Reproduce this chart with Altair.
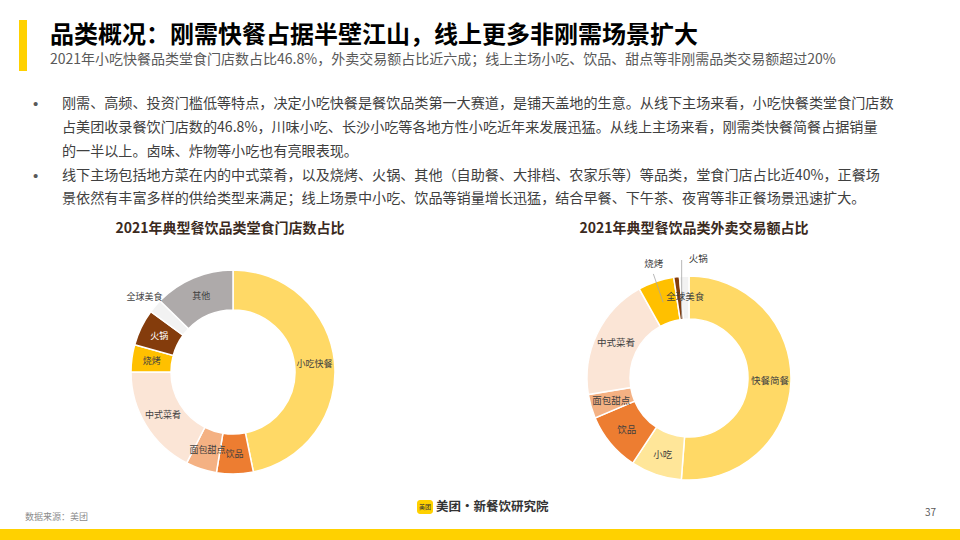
import altair as alt
import pandas as pd

FONT = "Noto Sans CJK SC"

# ---------------- data ----------------
left_cats = ["小吃快餐", "饮品", "面包甜点", "中式菜肴", "烧烤", "火锅", "全球美食", "其他"]
left_vals = [46.8, 5.8, 4.9, 17.5, 4.3, 5.8, 2.2, 12.7]

right_cats = ["快餐简餐", "小吃", "饮品", "面包甜点", "中式菜肴", "烧烤", "火锅", "全球美食"]
right_vals = [51.2, 8.1, 9.3, 3.8, 19.5, 5.7, 0.9, 1.5]

color_domain = ["小吃快餐", "快餐简餐", "小吃", "饮品", "面包甜点", "中式菜肴", "烧烤", "火锅", "全球美食", "其他"]
color_range = ["#FFD966", "#FFD966", "#FFE699", "#ED7D31", "#F4B183", "#FBE5D6", "#FFC000", "#843C0C", "#F2F2F2", "#AEAAAA"]

title_text = "品类概况：刚需快餐占据半壁江山，线上更多非刚需场景扩大"
subtitle_text = "2021年小吃快餐品类堂食门店数占比46.8%，外卖交易额占比近六成；线上主场小吃、饮品、甜点等非刚需品类交易额超过20%"
bullet_lines = [
    "刚需、高频、投资门槛低等特点，决定小吃快餐是餐饮品类第一大赛道，是铺天盖地的生意。从线下主场来看，小吃快餐类堂食门店数",
    "占美团收录餐饮门店数的46.8%，川味小吃、长沙小吃等各地方性小吃近年来发展迅猛。从线上主场来看，刚需类快餐简餐占据销量",
    "的一半以上。卤味、炸物等小吃也有亮眼表现。",
    "线下主场包括地方菜在内的中式菜肴，以及烧烤、火锅、其他（自助餐、大排档、农家乐等）等品类，堂食门店占比近40%，正餐场",
    "景依然有丰富多样的供给类型来满足；线上场景中小吃、饮品等销量增长迅猛，结合早餐、下午茶、夜宵等非正餐场景迅速扩大。",
]
bullet_starts = [True, False, False, True, False]
left_title = "2021年典型餐饮品类堂食门店数占比"
right_title = "2021年典型餐饮品类外卖交易额占比"
source_text = "数据来源：美团"
brand_text = "美团·新餐饮研究院"
page_text = "37"

left_df = pd.DataFrame({"cat": left_cats, "val": left_vals, "idx": range(len(left_cats))})
right_df = pd.DataFrame({"cat": right_cats, "val": right_vals, "idx": range(len(right_cats))})

one = pd.DataFrame({"d": [0]})


def txt(s, x, y, size, color="#404040", weight="normal", align="left", baseline="middle", font=FONT):
    return alt.Chart(pd.DataFrame({"t": [s]})).mark_text(
        font=font, fontSize=size, color=color, fontWeight=weight, align=align, baseline=baseline
    ).encode(x=alt.value(x), y=alt.value(y), text="t:N")


def rect(x, x2, y, y2, color, corner=0):
    return alt.Chart(one).mark_rect(color=color, cornerRadius=corner).encode(
        x=alt.value(x), x2=alt.value(x2), y=alt.value(y), y2=alt.value(y2)
    )


color_enc = alt.Color("cat:N", scale=alt.Scale(domain=color_domain, range=color_range), legend=None)


def donut(df, cx, cy, inner, outer):
    base = alt.Chart(df).encode(
        theta=alt.Theta("val:Q", stack=True),
        order=alt.Order("idx:Q", sort="ascending"),
        x=alt.value(cx),
        y=alt.value(cy),
    )
    arc = base.mark_arc(innerRadius=inner, outerRadius=outer, stroke="white", strokeWidth=1.5).encode(color=color_enc)
    return base, arc


# left donut
LCX, LCY = 233, 372
lbase, larc = donut(left_df, LCX, LCY, 62, 102)
l_in = lbase.transform_calculate(
    lab="datum.cat === '全球美食' ? '' : datum.cat"
).mark_text(radius=82, font=FONT, fontSize=9).encode(
    text="lab:N",
    color=alt.condition("datum.cat === '火锅'", alt.value("white"), alt.value("#404040")),
)
l_out = lbase.transform_calculate(
    lab="datum.cat === '全球美食' ? datum.cat : ''"
).mark_text(radius=116, font=FONT, fontSize=9, color="#404040").encode(text="lab:N")

# right donut
RCX, RCY = 689, 378
rbase, rarc = donut(right_df, RCX, RCY, 59, 102)
r_in = rbase.transform_calculate(
    lab="(datum.cat === '烧烤' || datum.cat === '火锅') ? '' : datum.cat"
).mark_text(radius=81, font=FONT, fontSize=9.5, color="#404040").encode(text="lab:N")
r_out1 = rbase.transform_calculate(
    lab="datum.cat === '烧烤' ? datum.cat : ''"
).mark_text(radius=121, font=FONT, fontSize=9.5, color="#404040", dx=4).encode(text="lab:N")
r_out2 = rbase.transform_calculate(
    lab="datum.cat === '火锅' ? datum.cat : ''"
).mark_text(radius=120, font=FONT, fontSize=9.5, color="#404040", dx=24).encode(text="lab:N")

lead = alt.Chart(right_df).transform_window(
    cum="sum(val)", sort=[alt.SortField("idx")]
).transform_joinaggregate(tot="sum(val)").transform_calculate(
    a="(datum.cum - datum.val/2) / datum.tot * 2 * PI"
).transform_calculate(
    r1="datum.cat === '烧烤' ? 80 : 60"
).transform_calculate(
    x1=f"{RCX} + datum.r1 * sin(datum.a)",
    y1=f"{RCY} - datum.r1 * cos(datum.a)",
).transform_calculate(
    x2=f"datum.cat === '烧烤' ? {RCX} + 110 * sin(datum.a) : datum.x1",
    y2=f"datum.cat === '烧烤' ? {RCY} - 110 * cos(datum.a) : {RCY} - 118",
).transform_filter(
    "datum.cat === '烧烤' || datum.cat === '火锅'"
).mark_rule(color="#A6A6A6", strokeWidth=0.8).encode(
    x=alt.X("x1:Q", scale=None), y=alt.Y("y1:Q", scale=None), x2="x2:Q", y2="y2:Q"
)

layers = [
    rect(19, 27, 20, 71, "#FFD100"),
    txt(title_text, 50, 36, 24, color="#000000", weight="bold"),
    txt(subtitle_text, 50, 60, 14, color="#595959"),
]
ys = [104, 128, 152, 176, 199]
for line, y, b in zip(bullet_lines, ys, bullet_starts):
    if b:
        layers.append(txt("•", 33, y, 15, color="#595959", font="Liberation Sans"))
    layers.append(txt(line, 62, y, 14.1, color="#404040"))

layers += [
    txt(left_title, 230, 229, 14, color="#3B2A1E", weight="bold", align="center"),
    txt(right_title, 694, 229, 14, color="#3B2A1E", weight="bold", align="center"),
    larc, l_in, l_out,
    rarc, lead, r_in, r_out1, r_out2,
    txt(source_text, 25, 517, 9, color="#8C8C8C"),
    rect(417, 433, 500, 514, "#FFD100", corner=3),
    txt("美团", 425, 507, 6, color="#333333", align="center"),
    txt(brand_text, 436, 507, 12.5, color="#333333", weight="bold"),
    txt(page_text, 936, 513, 10, color="#595959", align="right"),
    rect(0, 960, 529, 540, "#FFD100"),
]

chart = alt.layer(*layers).resolve_scale(theta="independent").properties(
    width=960, height=540, padding=0, autosize="none", background="white"
).configure_view(stroke=None)

chart.save("out.html", embed_options={"renderer": "svg", "actions": False})
